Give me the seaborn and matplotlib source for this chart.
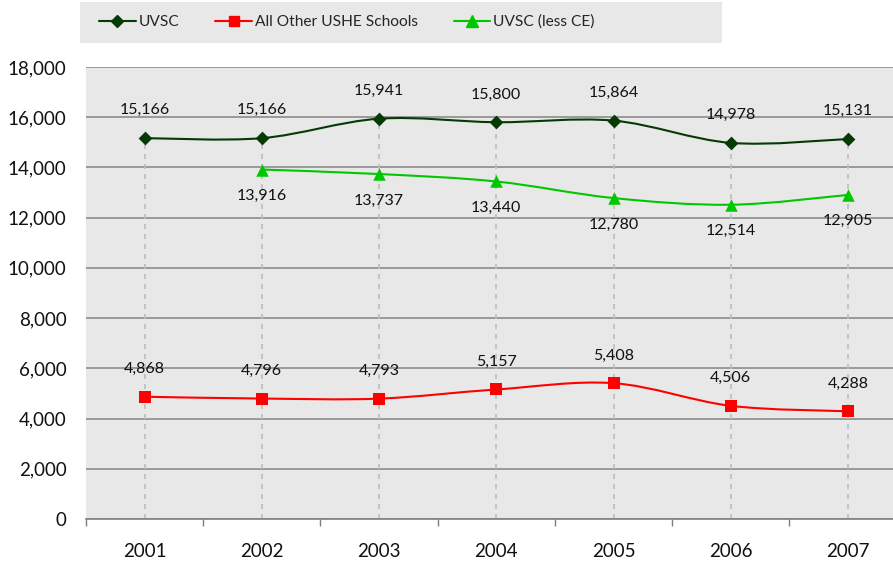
import numpy as np
import pandas as pd
import matplotlib
matplotlib.use("Agg")
import matplotlib.pyplot as plt
import seaborn as sns
from matplotlib.path import Path
from matplotlib.patches import PathPatch, Rectangle
from matplotlib.lines import Line2D
from matplotlib.ticker import FuncFormatter

years = ["2001", "2002", "2003", "2004", "2005", "2006", "2007"]
uvsc = [15166, 15166, 15941, 15800, 15864, 14978, 15131]
other_ushe = [4868, 4796, 4793, 5157, 5408, 4506, 4288]
uvsc_less_ce = [np.nan, 13916, 13737, 13440, 12780, 12514, 12905]

series_names = ["UVSC", "All Other USHE Schools", "UVSC (less CE)"]
colors = {"UVSC": "#053a05", "All Other USHE Schools": "#ff0000", "UVSC (less CE)": "#00c800"}
markers = {"UVSC": "D", "All Other USHE Schools": "s", "UVSC (less CE)": "^"}
msizes = {"UVSC": 7, "All Other USHE Schools": 8, "UVSC (less CE)": 9}
label_pos = {"UVSC": 20, "All Other USHE Schools": 20, "UVSC (less CE)": -19}

df = pd.DataFrame({"year": years, "UVSC": uvsc,
                   "All Other USHE Schools": other_ushe,
                   "UVSC (less CE)": uvsc_less_ce})
df["x"] = np.arange(len(years))
long = df.melt(id_vars=["year", "x"], var_name="series", value_name="value").dropna()

sns.set_theme(style="white")
plt.rcParams["font.family"] = ["Lato", "DejaVu Sans"]

fig = plt.figure(figsize=(8.93, 5.61), dpi=100)
ax = fig.add_axes([0.0963, 0.0749, 0.9037, 0.8057])
ax.set_facecolor("#e8e8e8")


def smooth_path(xs, ys):
    # excel-like smoothed line: cubic bezier with catmull-rom control points
    pts = np.column_stack([xs, ys])
    verts = [pts[0]]
    codes = [Path.MOVETO]
    n = len(pts)
    for i in range(n - 1):
        p0 = pts[i - 1] if i > 0 else pts[i]
        p1 = pts[i]
        p2 = pts[i + 1]
        p3 = pts[i + 2] if i + 2 < n else pts[i + 1]
        c1 = p1 + (p2 - p0) / 6.0
        c2 = p2 - (p3 - p1) / 6.0
        verts += [c1, c2, p2]
        codes += [Path.CURVE4] * 3
    return Path(verts, codes)


# drop lines from highest point to axis
tops = df[series_names].max(axis=1)
ax.vlines(df["x"], 0, tops, colors="#bdbdbd", linestyles=(0, (3, 3)), linewidth=1.2, zorder=1)

for name in series_names:
    sub = long[long["series"] == name]
    ax.add_patch(PathPatch(smooth_path(sub["x"].values, sub["value"].values),
                           facecolor="none", edgecolor=colors[name], linewidth=1.5, zorder=3))
    sns.scatterplot(data=sub, x="x", y="value", marker=markers[name], color=colors[name],
                    s=msizes[name] ** 2, edgecolor=colors[name], linewidth=0, zorder=4, ax=ax)
    for xv, yv in zip(sub["x"], sub["value"]):
        ax.annotate(f"{int(yv):,}", (xv, yv), xytext=(0, label_pos[name]),
                    textcoords="offset points", ha="center", va="center",
                    fontsize=11.5, color="#111111")

ax.set_xlim(-0.5, 6.384)
ax.set_ylim(0, 18000)
ax.set_yticks(range(0, 18001, 2000))
ax.yaxis.set_major_formatter(FuncFormatter(lambda v, p: f"{int(v):,}"))
ax.set_xticks(df["x"])
ax.set_xticklabels(years)
ax.set_xticks(np.arange(-0.5, 6.5, 1), minor=True)
ax.tick_params(axis="x", which="major", length=0, pad=17, labelsize=13.5, labelcolor="#111111")
ax.tick_params(axis="x", which="minor", length=5, width=1, color="#7f7f7f", direction="out", bottom=True)
ax.tick_params(axis="y", length=0, pad=14, labelsize=13.5, labelcolor="#111111")
ax.grid(axis="y", color="#8c8c8c", linewidth=1.2)
ax.set_axisbelow(True)
ax.set_xlabel("")
ax.set_ylabel("")
for side in ["top", "right", "left"]:
    ax.spines[side].set_visible(False)
ax.spines["bottom"].set_color("#7f7f7f")
ax.spines["bottom"].set_linewidth(1.2)

# legend background box
fig.patches.append(Rectangle((80 / 893, 1 - 43 / 561), 642 / 893, 41 / 561,
                             transform=fig.transFigure, facecolor="#e8e8e8",
                             edgecolor="none", zorder=0))
handles = [Line2D([0], [0], color=colors[n], marker=markers[n], markersize=msizes[n] - 1,
                  linewidth=1.5) for n in series_names]
leg = fig.legend(handles, series_names, loc="center left", bbox_to_anchor=(0.111, 0.961),
                 ncol=3, frameon=False, fontsize=11.2, handlelength=2.35, handletextpad=0.2,
                 columnspacing=2.3, borderpad=0, borderaxespad=0)

fig.savefig("out.png", dpi=100)
